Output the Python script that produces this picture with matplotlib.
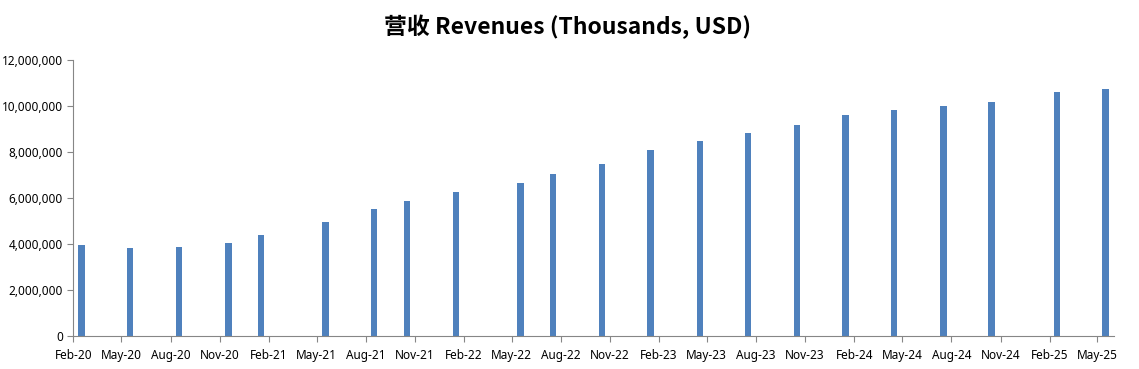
import matplotlib
matplotlib.use("Agg")
import matplotlib.pyplot as plt
import matplotlib.dates as mdates
import matplotlib.ticker as mticker
import pandas as pd

# report dates and revenues in thousands USD
dates = ["2020-02-16", "2020-05-17", "2020-08-17", "2020-11-17", "2021-01-17",
         "2021-05-18", "2021-08-17", "2021-10-17", "2022-01-17", "2022-05-18",
         "2022-07-17", "2022-10-17", "2023-01-16", "2023-04-18", "2023-07-17",
         "2023-10-17", "2024-01-16", "2024-04-16", "2024-07-17", "2024-10-15",
         "2025-02-14", "2025-05-16"]
revenues = [3960000, 3830000, 3870000, 4040000, 4390000,
            4960000, 5520000, 5870000, 6260000, 6650000,
            7040000, 7480000, 8090000, 8480000, 8830000,
            9170000, 9610000, 9830000, 10000000, 10170000,
            10610000, 10740000]

x = pd.to_datetime(dates)

plt.rcParams['font.family'] = ['Noto Sans', 'DejaVu Sans']
fig = plt.figure(figsize=(11.39, 3.69), dpi=100)
ax = fig.add_axes([0.0644, 0.0894, 0.9136, 0.7476])

ax.bar(x, revenues, width=12, color='#4F81BD', align='center')

ax.set_xlim(pd.Timestamp("2020-02-01"), pd.Timestamp("2025-06-01"))
ax.set_ylim(0, 12000000)
ax.set_yticks(range(0, 12000001, 2000000))
ax.yaxis.set_major_formatter(mticker.FuncFormatter(lambda v, p: f"{int(v):,}"))

ax.xaxis.set_major_locator(mdates.MonthLocator(bymonth=[2, 5, 8, 11], bymonthday=1))
ax.xaxis.set_major_formatter(mdates.DateFormatter('%b-%y'))

for s in ['top', 'right']:
    ax.spines[s].set_visible(False)
for s in ['left', 'bottom']:
    ax.spines[s].set_color('#868686')
ax.tick_params(axis='both', colors='#868686', labelcolor='black', labelsize=8.5, length=4)
ax.tick_params(axis='x', pad=5)

fig.suptitle('营收 Revenues (Thousands, USD)', x=0.498, y=0.927, va='center',
             fontsize=16.5, fontweight='bold', family=['Noto Sans CJK SC', 'DejaVu Sans'])

fig.savefig('out.png', dpi=100)
